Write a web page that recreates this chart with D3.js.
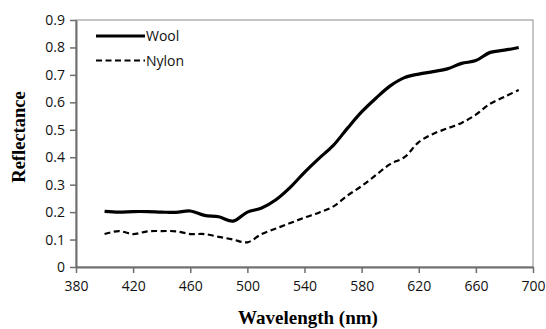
<!DOCTYPE html>
<html>
<head>
<meta charset="utf-8">
<script src="https://cdn.jsdelivr.net/npm/d3@7"></script>
<style>
  body { margin: 0; background: #fff; }
  .tick text { font-family: "Open Sans", sans-serif; font-size: 14px; fill: #111; }
</style>
</head>
<body>
<div id="chart"></div>
<script>
// wavelengths sampled every 10 nm
var wavelength = [400, 410, 420, 430, 440, 450, 460, 470, 480, 490,
                  500, 510, 520, 530, 540, 550, 560, 570, 580, 590,
                  600, 610, 620, 630, 640, 650, 660, 670, 680, 690];

var wool = [0.203, 0.200, 0.202, 0.202, 0.200, 0.199, 0.204, 0.188, 0.183, 0.167,
            0.200, 0.215, 0.245, 0.290, 0.345, 0.395, 0.442, 0.505, 0.565, 0.615,
            0.660, 0.690, 0.703, 0.712, 0.722, 0.742, 0.752, 0.782, 0.790, 0.800];

var nylon = [0.120, 0.131, 0.120, 0.130, 0.131, 0.130, 0.120, 0.120, 0.110, 0.100,
             0.090, 0.120, 0.140, 0.160, 0.180, 0.198, 0.220, 0.260, 0.295, 0.335,
             0.375, 0.400, 0.455, 0.485, 0.505, 0.525, 0.555, 0.595, 0.620, 0.645];

var xTicks = [380, 420, 460, 500, 540, 580, 620, 660, 700];
var yTicks = [0, 0.1, 0.2, 0.3, 0.4, 0.5, 0.6, 0.7, 0.8, 0.9];

var series = [
    { name: "Wool", values: wool, dash: null, width: 3.2 },
    { name: "Nylon", values: nylon, dash: "6,3.5", width: 2.2 }
];

var width = 546, height = 329,
    margin = { top: 20, right: 13, bottom: 62, left: 76 },
    svg = d3.select("#chart").append("svg")
            .attr("width", width).attr("height", height);

var x = d3.scaleLinear().domain([380, 700])
        .range([margin.left, width - margin.right]);
var y = d3.scaleLinear().domain([0, 0.9])
        .range([height - margin.bottom, margin.top]);

// frame on top / right
svg.append("rect")
    .attr("x", x(380)).attr("y", y(0.9))
    .attr("width", x(700) - x(380)).attr("height", y(0) - y(0.9))
    .attr("fill", "none").attr("stroke", "#8c8c8c").attr("stroke-width", 1);

var xAxis = svg.append("g")
    .attr("transform", "translate(0," + y(0) + ")")
    .call(d3.axisBottom(x).tickValues(xTicks).tickSize(6).tickPadding(8).tickSizeOuter(0));

var yAxis = svg.append("g")
    .attr("transform", "translate(" + x(380) + ",0)")
    .call(d3.axisLeft(y).tickValues(yTicks).tickSize(6).tickPadding(5).tickSizeOuter(0)
        .tickFormat(function(d) { return d === 0 ? "0" : d3.format(".1f")(d); }));

[xAxis, yAxis].forEach(function(a) {
    a.select(".domain").attr("stroke", "#6e6e6e").attr("stroke-width", 2);
    a.selectAll(".tick line").attr("stroke", "#6e6e6e").attr("stroke-width", 1.5);
});

var line = d3.line()
    .x(function(d, i) { return x(wavelength[i]); })
    .y(function(d) { return y(d); })
    .curve(d3.curveCatmullRom);

series.forEach(function(s) {
    svg.append("path")
        .datum(s.values)
        .attr("d", line)
        .attr("fill", "none")
        .attr("stroke", "#000")
        .attr("stroke-width", s.width)
        .attr("stroke-dasharray", s.dash);
});

// legend
var legend = svg.append("g");
series.forEach(function(s, i) {
    var ly = 36 + i * 24.5;
    legend.append("line")
        .attr("x1", 96).attr("x2", 145)
        .attr("y1", ly).attr("y2", ly)
        .attr("stroke", "#000")
        .attr("stroke-width", s.width)
        .attr("stroke-dasharray", s.dash);
    legend.append("text")
        .attr("x", 146).attr("y", ly + 5)
        .attr("font-family", "Open Sans, sans-serif")
        .attr("font-size", 14).attr("fill", "#111")
        .text(s.name);
});

// axis titles
svg.append("text")
    .attr("x", 308).attr("y", 324)
    .attr("text-anchor", "middle")
    .attr("font-family", "Liberation Serif, serif")
    .attr("font-weight", "bold").attr("font-size", 19)
    .text("Wavelength (nm)");

svg.append("text")
    .attr("transform", "translate(25,137) rotate(-90)")
    .attr("text-anchor", "middle")
    .attr("font-family", "Liberation Serif, serif")
    .attr("font-weight", "bold").attr("font-size", 18.5)
    .text("Reflectance");
</script>
</body>
</html>
